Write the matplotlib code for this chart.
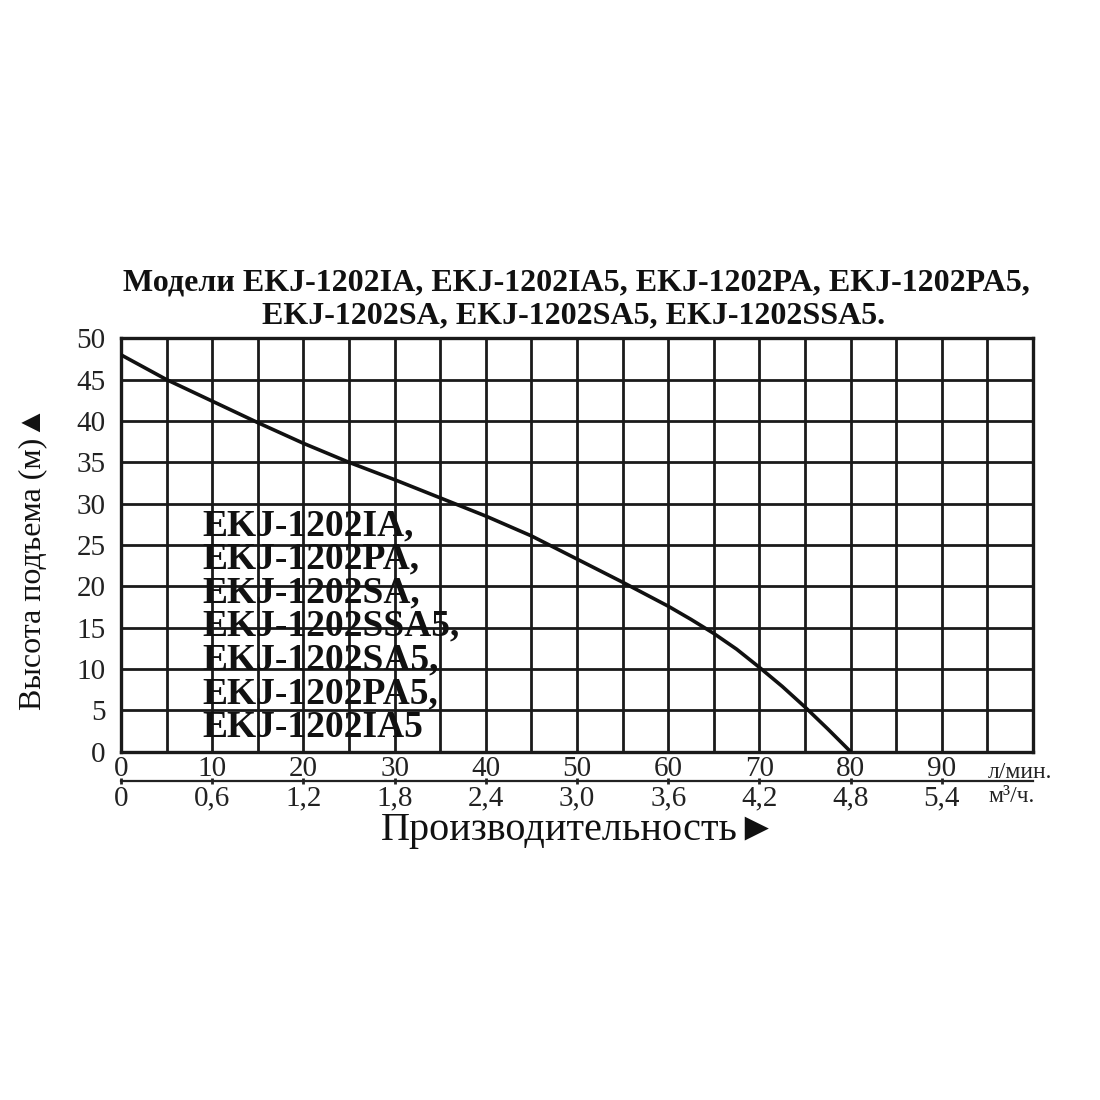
import matplotlib
matplotlib.use("Agg")
import matplotlib.pyplot as plt
import numpy as np

# pump curve: flow (l/min) vs head (m)
flow = [0, 5, 10, 15, 20, 25, 30, 35, 40, 45, 50, 55, 60, 62.5, 65, 67.5, 70, 72.5, 75, 77.5, 80]
head = [48.0, 45.0, 42.4, 39.8, 37.3, 35.0, 32.9, 30.7, 28.5, 26.1, 23.3, 20.5, 17.6, 16.0,
        14.3, 12.4, 10.2, 7.9, 5.4, 2.75, 0.0]

lpm_ticks = [0, 10, 20, 30, 40, 50, 60, 70, 80, 90]
m3h_labels = ["0", "0,6", "1,2", "1,8", "2,4", "3,0", "3,6", "4,2", "4,8", "5,4"]
head_ticks = [0, 5, 10, 15, 20, 25, 30, 35, 40, 45, 50]

title_lines = ["Модели EKJ-1202IA, EKJ-1202IA5, EKJ-1202PA, EKJ-1202PA5,",
               "EKJ-1202SA, EKJ-1202SA5, EKJ-1202SSA5."]
models = ["EKJ-1202IA,", "EKJ-1202PA,", "EKJ-1202SA,", "EKJ-1202SSA5,",
          "EKJ-1202SA5,", "EKJ-1202PA5,", "EKJ-1202IA5"]

serif = ["Liberation Serif", "DejaVu Serif"]
serif_sym = ["Liberation Serif", "DejaVu Sans"]
W = H = 1100.0

def fx(px):
    return px / W

def fy(py):
    return 1 - py / H

fig = plt.figure(figsize=(11, 11), dpi=100)
fig.patch.set_facecolor("white")

# main grid axes
ax = fig.add_axes([fx(121), fy(751.7), fx(1033) - fx(121), fy(338.3) - fy(751.7)])
ax.plot(flow, head, color="#111111", lw=2.6, solid_joinstyle="round",
        solid_capstyle="round", zorder=3)
ax.set_xlim(0, 100)
ax.set_ylim(0, 50)
ax.set_xticks(lpm_ticks)
ax.set_xticks(np.arange(5, 100, 10), minor=True)
ax.set_xticklabels([str(t) for t in lpm_ticks], family=serif, fontsize=21)
ax.set_yticks(head_ticks)
ax.set_yticklabels([str(t) for t in head_ticks], family=serif, fontsize=21)
ax.tick_params(axis="both", which="both", length=0, colors="#222222")
ax.tick_params(axis="x", pad=3)
ax.tick_params(axis="y", pad=11)
ax.grid(True, which="both", color="#1a1a1a", lw=2.0)
ax.set_axisbelow(True)
for s in ax.spines.values():
    s.set_linewidth(2.4)
    s.set_color("#1a1a1a")

# second flow scale (m3/h) under a thin separator line
ax2 = fig.add_axes([fx(121), fy(781), fx(1033) - fx(121), 0.0001])
ax2.set_xlim(0, 100)
ax2.set_ylim(0, 1)
ax2.set_yticks([])
for k in ["top", "left", "right"]:
    ax2.spines[k].set_visible(False)
ax2.spines["bottom"].set_linewidth(1.6)
ax2.spines["bottom"].set_color("#222222")
ax2.set_xticks(lpm_ticks)
ax2.set_xticklabels(m3h_labels, family=serif, fontsize=21)
ax2.tick_params(axis="x", direction="inout", length=5, width=2, colors="#222222", pad=1)
ax2.patch.set_alpha(0)

# unit labels
fig.text(fx(988), fy(772), "л/мин.", family=serif, fontsize=17, ha="left", va="center", color="#222222")
fig.text(fx(988), fy(797), "м³/ч.", family=serif, fontsize=17, ha="left", va="center", color="#222222")

# axis titles
fig.text(fx(579), fy(812), "Производительность►", family=serif_sym, fontsize=29,
         ha="center", va="top", color="#111111")
fig.text(fx(33), fy(558), "Высота подъема (м)▲", family=serif_sym, fontsize=23,
         rotation=90, ha="center", va="center", color="#111111")

# chart title
fig.text(fx(576), fy(283), title_lines[0], family=serif, fontsize=23, fontweight="bold",
         ha="center", va="center", color="#111111")
fig.text(fx(574), fy(316), title_lines[1], family=serif, fontsize=23, fontweight="bold",
         ha="center", va="center", color="#111111")

# model names over the grid, one block
fig.text(fx(202), fy(508), "\n".join(models), family=serif, fontsize=27, fontweight="bold",
         ha="left", va="top", linespacing=0.95, color="#111111", zorder=5)

fig.savefig("out.png", dpi=100, facecolor="white")
